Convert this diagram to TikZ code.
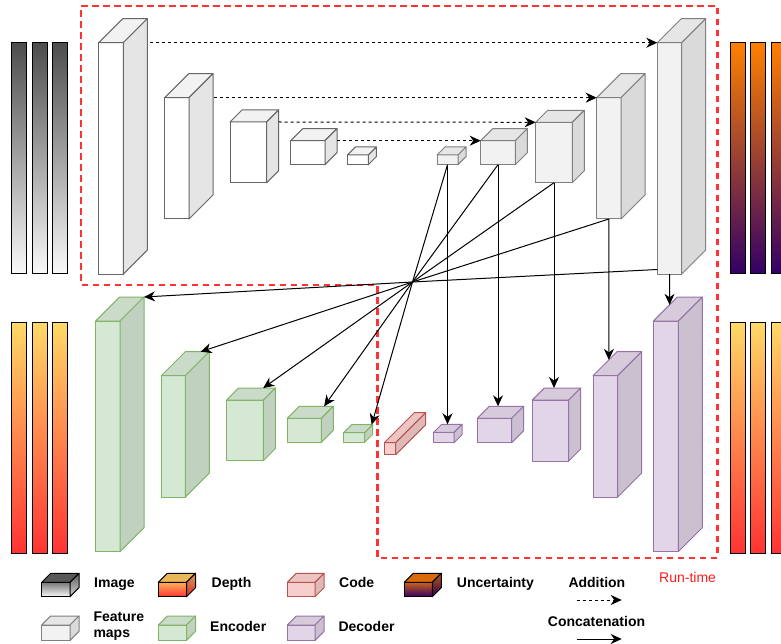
\documentclass[tikz,border=0pt]{standalone}
\usepackage{fontspec}
\setmainfont{Liberation Sans}
\usetikzlibrary{arrows.meta,calc}

\definecolor{featstroke}{HTML}{666666}
\definecolor{featgstroke}{HTML}{808080}
\definecolor{featgfill}{HTML}{F2F2F2}
\definecolor{encfill}{HTML}{D5E8D4}
\definecolor{encstroke}{HTML}{82B366}
\definecolor{decfill}{HTML}{E1D5E7}
\definecolor{decstroke}{HTML}{9673A6}
\definecolor{codefill}{HTML}{F8CECC}
\definecolor{codestroke}{HTML}{B85450}
\definecolor{rtred}{HTML}{FF3333}
\definecolor{rttext}{HTML}{FF1A1A}
\definecolor{imgtop}{HTML}{4D4D4D}
\definecolor{imgbot}{HTML}{F9F9F9}
\definecolor{deptop}{HTML}{FFD966}
\definecolor{depbot}{HTML}{FF3333}
\definecolor{unctop}{HTML}{FF8000}
\definecolor{uncbot}{HTML}{330066}

% cuboid: name, x1, y1, x2, y2, depth, fill, stroke
\newcommand{\cuboid}[8]{%
  \node[cubefront, fill=#7, draw=#8, minimum width={(#4-#2)*1pt}, minimum height={(#5-#3)*1pt}] (#1) at (#2,#3) {};
  \filldraw[fill=#7!95!black, draw=#8, line width=1pt, line join=round] (#1.north west) -- ++(#6,-#6) -- ++(#4-#2,0) -- (#1.north east) -- cycle;
  \filldraw[fill=#7!90!black, draw=#8, line width=1pt, line join=round] (#1.north east) -- ++(#6,-#6) -- ++(0,#5-#3) -- (#1.south east) -- cycle;
  \coordinate (#1-btl) at ($(#1.north west)+(#6,-#6)$);
  \coordinate (#1-btr) at ($(#1.north east)+(#6,-#6)$);
  \coordinate (#1-r) at ($(#1.north east)+(#6,0)$);
}
% gradient cuboid: name, x1, y1, x2, y2, depth, top colour, bottom colour
\newcommand{\gcuboid}[8]{%
  \node[cubefront, draw=black, top color=#7!75!#8, bottom color=#8, minimum width={(#4-#2)*1pt}, minimum height={(#5-#3)*1pt}] (#1) at (#2,#3) {};
  \filldraw[fill=#7!90!#8!92!black, draw=black, line width=1pt, line join=round] (#1.north west) -- ++(#6,-#6) -- ++(#4-#2,0) -- (#1.north east) -- cycle;
  \shadedraw[top color=#7!80!#8!85!black, bottom color=#8!85!black, draw=black, line width=1pt, line join=round] (#1.north east) -- ++(#6,-#6) -- ++(0,#5-#3) -- (#1.south east) -- cycle;
}

\tikzset{
  cubefront/.style={anchor=north west, inner sep=0pt, outer sep=0pt, line width=1pt},
  gbar/.style={anchor=north west, inner sep=0pt, outer sep=0pt, draw=black, line width=1pt, minimum width=15.2pt, minimum height=231pt},
  runtime/.style={draw=rtred, line width=2.2pt, dash pattern=on 6.5pt off 4.5pt},
  tip/.style={-{Stealth[length=11pt,width=10pt,inset=3.5pt]}},
  addarrow/.style={tip, line width=1pt, dash pattern=on 3pt off 3pt, draw=black},
  catarrow/.style={tip, line width=1pt, draw=black},
  catline/.style={line width=1pt, draw=black},
  lab/.style={font=\fontsize{14}{16}\selectfont\bfseries, inner sep=0pt, anchor=base west},
}

\begin{document}
\begin{tikzpicture}[x=1pt,y=-1pt]
\useasboundingbox (0,0) rectangle (781,644);
\clip (0,0) rectangle (781,644);
\fill[white] (0,0) rectangle (781,644);

% ---------- gradient bars ----------
\node[gbar, top color=imgtop, bottom color=imgbot] (im1) at (11.3,42.7) {};
\node[gbar, top color=imgtop, bottom color=imgbot] (im2) at (32,42.7) {};
\node[gbar, top color=imgtop, bottom color=imgbot] (im3) at (52.7,42.7) {};
\node[gbar, top color=unctop, bottom color=uncbot] (un1) at (730,42.7) {};
\node[gbar, top color=unctop, bottom color=uncbot] (un2) at (750.3,42.7) {};
\node[gbar, top color=unctop, bottom color=uncbot] (un3) at (771,42.7) {};
\node[gbar, top color=deptop, bottom color=depbot] (dl1) at (11.3,322.3) {};
\node[gbar, top color=deptop, bottom color=depbot] (dl2) at (32,322.3) {};
\node[gbar, top color=deptop, bottom color=depbot] (dl3) at (52.7,322.3) {};
\node[gbar, top color=deptop, bottom color=depbot] (dr1) at (730,322.3) {};
\node[gbar, top color=deptop, bottom color=depbot] (dr2) at (750.3,322.3) {};
\node[gbar, top color=deptop, bottom color=depbot] (dr3) at (771,322.3) {};

% ---------- run-time region ----------
\draw[runtime] (81.3,6) -- (717.5,6) -- (717.5,557.7) -- (377.5,557.7) -- (377.5,284.7) -- (81.3,284.7) -- cycle;

% ---------- feature maps (top row) ----------
\cuboid{A}{98.7}{42.7}{123.3}{274}{24}{white}{featstroke}
\cuboid{B}{164.7}{97.7}{189}{219}{24}{white}{featstroke}
\cuboid{C}{230}{122}{266.7}{182.7}{12}{white}{featstroke}
\cuboid{D}{290.7}{140.7}{325}{164.7}{12}{white}{featstroke}
\cuboid{E}{347.3}{155}{368.3}{164.7}{8}{white}{featstroke}
\cuboid{F}{437}{155}{458}{164.7}{8}{featgfill}{featgstroke}
\cuboid{G}{480.7}{140.7}{515.3}{164.7}{12}{featgfill}{featgstroke}
\cuboid{H}{535.7}{122.3}{572.3}{182.7}{12}{featgfill}{featgstroke}
\cuboid{I}{596.7}{97.7}{621}{219}{24}{featgfill}{featgstroke}
\cuboid{J}{657.3}{42.7}{681.7}{274}{24}{featgfill}{featgstroke}

% ---------- encoder ----------
\cuboid{E1}{95.7}{321}{120}{551.7}{24}{encfill}{encstroke}
\cuboid{E2}{161.3}{375.7}{185.3}{497}{24}{encfill}{encstroke}
\cuboid{E3}{226.7}{400}{263.3}{460.7}{12}{encfill}{encstroke}
\cuboid{E4}{287.3}{418.3}{321.3}{442.3}{12}{encfill}{encstroke}
\cuboid{E5}{343.7}{432.7}{364.7}{442.3}{8}{encfill}{encstroke}

% ---------- code ----------
\cuboid{K}{384.3}{442.7}{395.7}{454.7}{30}{codefill}{codestroke}

% ---------- decoder ----------
\cuboid{D1}{433.7}{432.3}{454}{442.7}{8}{decfill}{decstroke}
\cuboid{D2}{477.3}{418.3}{511.7}{442.7}{12}{decfill}{decstroke}
\cuboid{D3}{532.3}{400}{568.7}{461}{12}{decfill}{decstroke}
\cuboid{D4}{593}{375.7}{617.7}{497}{24}{decfill}{decstroke}
\cuboid{D5}{653.3}{321}{678.3}{551.7}{24}{decfill}{decstroke}

% ---------- addition (dashed) ----------
\draw[addarrow] ([xshift=3pt]A-r) -- (J.north west);
\draw[addarrow] ([xshift=1pt]B-r) -- (I.north west);
\draw[addarrow] (C-r) -- (H.north west);
\draw[addarrow] (D-r) -- (G.north west);

% ---------- concatenation ----------
\coordinate (P) at (412.5,282);
\draw[catline] (F.south) -- (P);
\draw[catline] (G.south) -- (P);
\draw[catline] (H.south) -- (P);
\draw[catline] (I.south) -- (P);
\draw[catline] ([yshift=4.5pt]J.south west) -- (P);

\draw[catarrow] (F.south) -- (F.south |- D1-btl);
\draw[catarrow] (G.south) -- (G.south |- D2-btl);
\draw[catarrow] (H.south) -- (H.south |- D3-btl);
\draw[catarrow] (I.south) -- (intersection of I.south--I.north and D4.north west--D4-btl);
\draw[catarrow] (J.south) -- (intersection of J.south--J.north and D5.north west--D5-btl);

\draw[catarrow] (P) -- (E1-btr);
\draw[catarrow] (P) -- ($(E2-btl)!0.64!(E2-btr)$);
\draw[catarrow] (P) -- ($(E3-btl)!0.67!(E3-btr)$);
\draw[catarrow] (P) -- ($(E4-btl)!0.73!(E4-btr)$);
\draw[catarrow] (P) -- ($(E5-btl)!0.95!(E5-btr)$);

% ---------- legend ----------
\gcuboid{LImg}{41.7}{582.3}{70}{596.7}{9}{imgtop}{imgbot}
\gcuboid{LDep}{158.3}{582.3}{186.5}{596.7}{9}{deptop}{depbot}
\cuboid{LCode}{287.3}{582.3}{315}{596.7}{9}{codefill}{codestroke}
\gcuboid{LUnc}{404.3}{582.3}{432.3}{596.7}{9}{unctop}{uncbot}
\cuboid{LFeat}{41.7}{625}{70}{640.3}{9}{featgfill}{featgstroke}
\cuboid{LEnc}{158.3}{625}{186.5}{640.3}{9}{encfill}{encstroke}
\cuboid{LDec}{287.3}{625}{315}{640.3}{9}{decfill}{decstroke}

\node[lab] (tImg) at (94,587.7) {Image};
\node[lab] (tDep) at (211.5,587.7) {Depth};
\node[lab] (tCode) at (339,587.7) {Code};
\node[lab] (tUnc) at (456.7,587.7) {Uncertainty};
\node[lab] (tAdd) at (568.3,587.7) {Addition};
\node[lab, font=\fontsize{14}{16}\selectfont, text=rttext] (tRun) at (659,582.3) {Run-time};
\node[lab, anchor=north west, align=left] (tFeat) at (93.3,611.7) {Feature\\maps};
\node[lab] (tEnc) at (210,631.7) {Encoder};
\node[lab] (tDec) at (338.3,631.7) {Decoder};
\node[lab] (tCat) at (547.7,626.7) {Concatenation};

\coordinate (addS) at (576.7,600);
\coordinate (addT) at (621.7,600);
\coordinate (catS) at (576.7,639);
\coordinate (catT) at (621.7,639);
\draw[addarrow] (addS) -- (addT);
\draw[catarrow] (catS) -- (catT);
\end{tikzpicture}
\end{document}
